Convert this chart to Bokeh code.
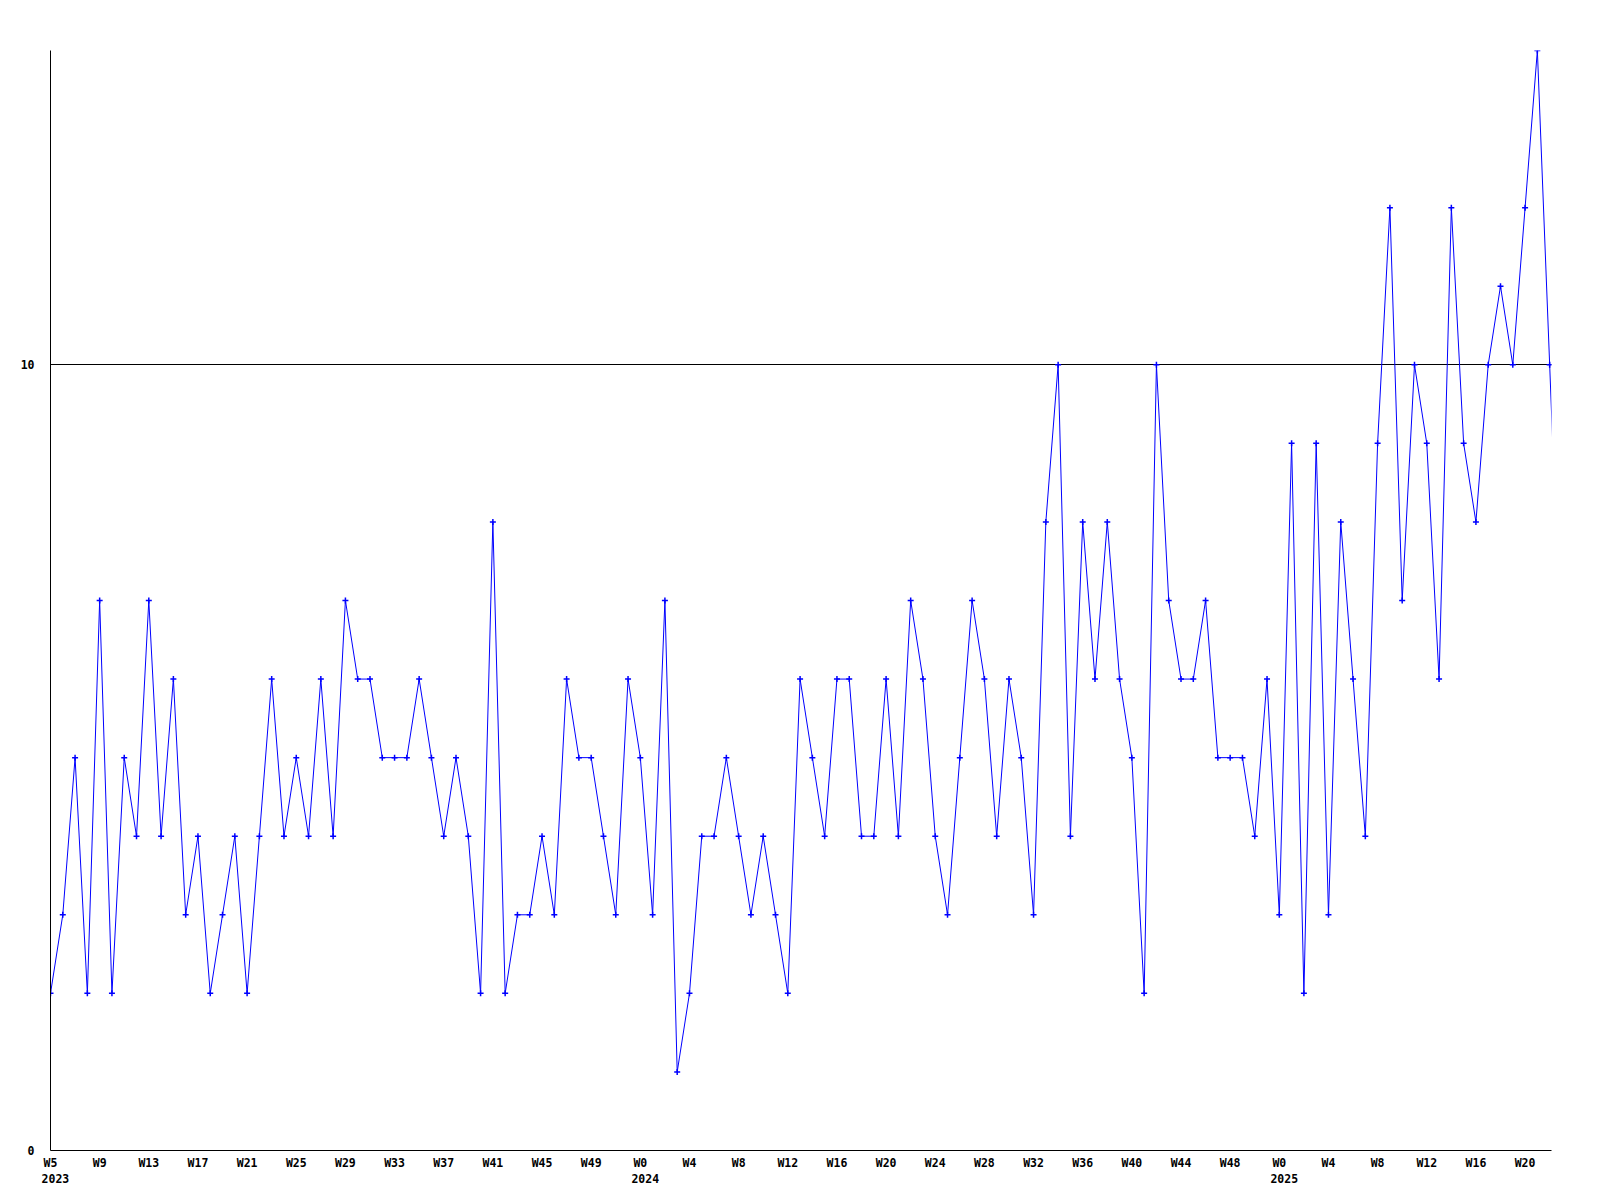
import numpy as np
from bokeh.plotting import figure
from bokeh.models import FixedTicker, LinearAxis, Range1d, ColumnDataSource
from bokeh.embed import file_html
from bokeh.resources import INLINE

# weekly counts, starting at 2023 W5 (last value runs past the right edge)
values = [2, 3, 5, 2, 7, 2, 5, 4, 7, 4,
          6, 3, 4, 2, 3, 4, 2, 4, 6, 4,
          5, 4, 6, 4, 7, 6, 6, 5, 5, 5,
          6, 5, 4, 5, 4, 2, 8, 2, 3, 3,
          4, 3, 6, 5, 5, 4, 3, 6, 5, 3,
          7, 1, 2, 4, 4, 5, 4, 3, 4, 3,
          2, 6, 5, 4, 6, 6, 4, 4, 6, 4,
          7, 6, 4, 3, 5, 7, 6, 4, 6, 5,
          3, 8, 10, 4, 8, 6, 8, 6, 5, 2,
          10, 7, 6, 6, 7, 5, 5, 5, 4, 6,
          3, 9, 2, 9, 3, 8, 6, 4, 9, 12,
          7, 10, 9, 6, 12, 9, 8, 10, 11, 10,
          12, 14, 10, 6]

week_labels = ["W5", "W9", "W13", "W17", "W21", "W25", "W29", "W33", "W37", "W41", "W45", "W49",
               "W0", "W4", "W8", "W12", "W16", "W20", "W24", "W28", "W32", "W36", "W40", "W44", "W48",
               "W0", "W4", "W8", "W12", "W16", "W20"]
week_label_index = list(range(0, 121, 4))
year_labels = ["2023", "2024", "2025"]
year_label_index = [0, 48, 100]
y_ticks = [0, 10]

x = np.arange(len(values))
src = ColumnDataSource(dict(x=x, y=values))

FONT = "DejaVu Sans Mono"
FS = "11.5px"

p = figure(frame_width=1501, frame_height=1100,
           x_range=Range1d(0, 122.15), y_range=Range1d(0, 14),
           output_backend="svg", toolbar_location=None,
           min_border_left=50, min_border_top=50, min_border_right=30, min_border_bottom=50,
           x_axis_location=None, y_axis_location="left")
p.outline_line_color = None
p.background_fill_color = "white"
p.border_fill_color = "white"

p.line("x", "y", source=src, line_color="#0000ff", line_width=1)
p.scatter("x", "y", source=src, marker="cross", size=6, line_color="#0000ff", line_width=1.5)

# y axis (labels left-aligned)
ya = p.yaxis[0]
ya.ticker = FixedTicker(ticks=y_ticks)
ya.major_tick_line_color = None
ya.minor_tick_line_color = None
ya.major_tick_out = 0
ya.major_tick_in = 0
ya.major_label_standoff = 16
ya.major_label_text_align = "left"
ya.axis_line_color = "black"
ya.major_label_text_font = FONT
ya.major_label_text_font_style = "bold"
ya.major_label_text_font_size = FS
ya.major_label_text_color = "black"

p.xgrid.visible = False
p.ygrid.ticker = FixedTicker(ticks=y_ticks)
p.ygrid.grid_line_color = "black"
p.ygrid.grid_line_alpha = 1.0

# week axis
wpos = [float(i) for i in week_label_index]
xa = LinearAxis(ticker=FixedTicker(ticks=wpos),
                major_label_overrides={pos: lab for pos, lab in zip(wpos, week_labels)})
xa.major_tick_line_color = None
xa.minor_tick_line_color = None
xa.major_tick_out = 0
xa.major_tick_in = 0
xa.major_label_standoff = 5
xa.axis_line_color = "black"
xa.major_label_text_font = FONT
xa.major_label_text_font_style = "bold"
xa.major_label_text_font_size = FS
xa.major_label_text_color = "black"
p.add_layout(xa, "below")

# year axis: year text starts about where its week label starts
ypos = [i + 0.4 for i in year_label_index]
ya2 = LinearAxis(ticker=FixedTicker(ticks=ypos),
                 major_label_overrides={pos: lab for pos, lab in zip(ypos, year_labels)})
ya2.major_tick_line_color = None
ya2.minor_tick_line_color = None
ya2.major_tick_out = 0
ya2.major_tick_in = 0
ya2.major_label_standoff = 1
ya2.axis_line_color = None
ya2.major_label_text_align = "center"
ya2.major_label_text_font = FONT
ya2.major_label_text_font_style = "bold"
ya2.major_label_text_font_size = FS
ya2.major_label_text_color = "black"
p.add_layout(ya2, "below")

open("out.html", "w").write(file_html(p, INLINE))
